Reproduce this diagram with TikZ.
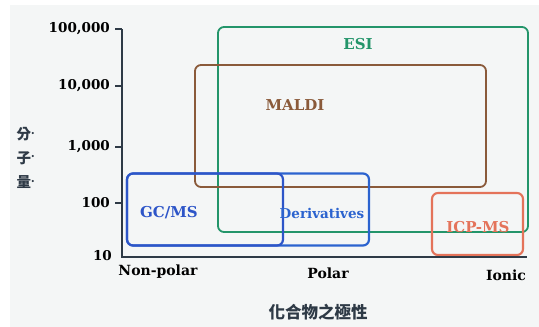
\documentclass[tikz,border=0pt]{standalone}
\usepackage{fontspec}
\setmainfont{DejaVu Serif}
\newfontfamily\cjk{Noto Sans CJK TC}
\definecolor{panel}{HTML}{F4F6F6}
\definecolor{axiscol}{HTML}{2E3A46}
\definecolor{esig}{HTML}{23956A}
\definecolor{maldib}{HTML}{8A5A3A}
\definecolor{gcblue}{HTML}{2D55C8}
\definecolor{derblue}{HTML}{2B63CF}
\definecolor{icpred}{HTML}{E4735A}
\tikzset{
  lbl/.style={font=\bfseries\fontsize{14}{16}\selectfont, inner sep=0pt},
  boxlbl/.style={font=\bfseries\fontsize{15}{17}\selectfont, inner sep=0pt},
  ticklbl/.style={font=\bfseries\fontsize{13.5}{15}\selectfont, inner sep=0pt, anchor=east, text=black},
  boxline/.style={rounded corners=6pt, line width=1.8pt},
  axisline/.style={draw=axiscol, line width=1.8pt},
  cjklbl/.style={font=\cjk\bfseries\fontsize{14.5}{16}\selectfont, inner sep=0pt, text=axiscol}
}
\begin{document}
\begin{tikzpicture}[x=1pt,y=-1pt]
\useasboundingbox (0,0) rectangle (539,327);
\fill[white] (0,0) rectangle (539,327);
\fill[panel] (10,5) rectangle (539,327);
% boxes
\draw[boxline, draw=esig] (218,27) rectangle (528,232);
\draw[boxline, draw=maldib] (195,65) rectangle (486,187);
\draw[boxline, draw=derblue, line width=2.2pt] (127,173.5) rectangle (369,245.5);
\draw[boxline, draw=gcblue, line width=2.2pt] (127,173.5) rectangle (283,245.5);
\draw[boxline, draw=icpred, line width=2.1pt] (432,193) rectangle (523,255);
% axes
\coordinate (top) at (122,29);
\coordinate (origin) at (122,257);
\coordinate (xend) at (527,257);
\draw[axisline] (top) -- (origin) -- (xend);
\foreach \yy/\nm in {29/a,86/b,147/c,203/d}{
  \coordinate (tk\nm) at (122,\yy);
  \draw[axisline, line width=1.4pt] (tk\nm) -- ++(-7,0);
}
\node[ticklbl] (t1) at (110,29) {100,000};
\node[ticklbl] (t2) at (110,86) {10,000};
\node[ticklbl] (t3) at (110,147) {1,000};
\node[ticklbl] (t4) at (110,203) {100};
\node[ticklbl] (t5) at (112,256) {10};
\node[lbl] (np) at (158,272) {Non-polar};
\node[lbl] (po) at (328,273) {Polar};
\node[lbl] (io) at (506,275) {Ionic};
% box labels
\node[boxlbl, text=esig] (esi) at (358,44) {ESI};
\node[boxlbl, text=maldib] (maldi) at (295,105) {MALDI};
\node[boxlbl, text=gcblue] (gc) at (169,213) {GC/MS};
\node[boxlbl, font=\bfseries\fontsize{13.5}{15}\selectfont, text=derblue] (der) at (322,213) {Derivatives};
\node[boxlbl, text=icpred] (icp) at (478,227) {ICP-MS};
% axis titles
\node[cjklbl] (y1) at (26,134) {分\textsuperscript{.}};
\node[cjklbl] (y2) at (26,158) {子\textsuperscript{.}};
\node[cjklbl] (y3) at (26,182) {量\textsuperscript{.}};
\node[cjklbl, font=\cjk\bfseries\fontsize{16.5}{18}\selectfont] (xt) at (318,312) {化合物之極性};
\end{tikzpicture}
\end{document}
